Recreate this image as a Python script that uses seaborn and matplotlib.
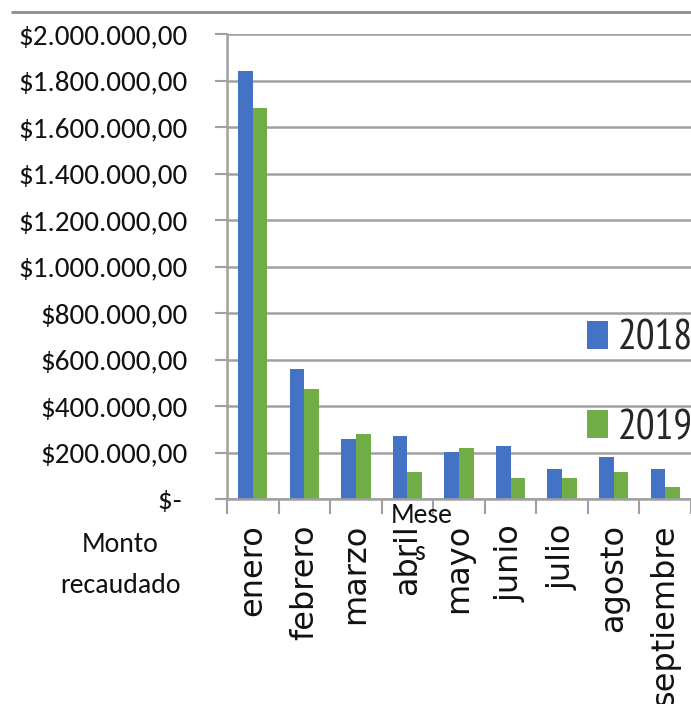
import matplotlib
matplotlib.use("Agg")
import matplotlib.pyplot as plt
from matplotlib import font_manager as fm
from matplotlib.lines import Line2D
from matplotlib.patches import Patch
from matplotlib.ticker import FuncFormatter, FixedLocator
import numpy as np
import pandas as pd
import seaborn as sns

# Monthly amounts collected, per year
meses = ["enero", "febrero", "marzo", "abril", "mayo", "junio", "julio", "agosto", "septiembre"]
anios = ["2018", "2019"]
monto_2018 = [1840000, 560000, 258000, 269000, 203000, 230000, 128000, 180000, 128000]
monto_2019 = [1680000, 475000, 281000, 115000, 219000, 89000, 89000, 117000, 50000]
y_ticks = list(range(0, 2000001, 200000))

AZUL = "#4472C4"
VERDE = "#70AD47"
GRIS = "#a0a0a0"
TEXTO = "#111111"

df = pd.DataFrame({
    "mes": meses * 2,
    "anio": [anios[0]] * len(meses) + [anios[1]] * len(meses),
    "monto": monto_2018 + monto_2019,
})

sns.set_theme(style="white")
names = {f.name for f in fm.fontManager.ttflist}
BASE = "Carlito" if "Carlito" in names else "Liberation Sans"
NARROW = "PT Sans Narrow" if "PT Sans Narrow" in names else BASE
plt.rcParams["font.family"] = [BASE, "DejaVu Sans"]

W, H = 691, 704
fig = plt.figure(figsize=(W / 100, H / 100), dpi=100)
ax = fig.add_axes([227 / W, 1 - 499 / H, (691 - 227) / W, (499 - 34) / H])

sns.barplot(data=df, x="mes", y="monto", hue="anio", order=meses, hue_order=anios,
            palette=[AZUL, VERDE], saturation=1, width=0.57, linewidth=0,
            errorbar=None, legend=False, ax=ax)

ax.set_xlim(-0.5, len(meses) - 0.5)
ax.set_ylim(0, 2000000)
ax.set_xlabel("")
ax.set_ylabel("")

# horizontal gridlines
ax.yaxis.set_major_locator(FixedLocator(y_ticks))
ax.grid(axis="y", color=GRIS, linewidth=1.8)
ax.set_axisbelow(True)


def fmt_monto(v, pos):
    if v == 0:
        return "$- "
    s = f"{v:,.2f}".replace(",", "X").replace(".", ",").replace("X", ".")
    return "$" + s


ax.yaxis.set_major_formatter(FuncFormatter(fmt_monto))
ax.tick_params(axis="y", which="major", length=9, width=1.5, color=GRIS,
               pad=19, labelsize=21, labelcolor=TEXTO, left=True)

# category labels at centres, tick marks at boundaries
ax.tick_params(axis="x", which="major", length=0, pad=18)
ax.set_xticks(np.arange(len(meses)), labels=meses)
for lbl in ax.get_xticklabels():
    lbl.set_fontfamily("DejaVu Sans")
    lbl.set_fontsize(23)
    lbl.set_color(TEXTO)
    lbl.set_rotation(90)
    lbl.set_va("top")
    lbl.set_ha("center")
ax.set_xticks(np.arange(len(meses) + 1) - 0.5, minor=True)
ax.tick_params(axis="x", which="minor", length=11, width=1.5, color=GRIS, bottom=True)

for side in ["top", "right"]:
    ax.spines[side].set_visible(False)
for side in ["left", "bottom"]:
    ax.spines[side].set_color(GRIS)
    ax.spines[side].set_linewidth(1.8)

# legend
handles = [Patch(facecolor=AZUL, edgecolor="none"), Patch(facecolor=VERDE, edgecolor="none")]
ax.legend(handles, anios, loc="center left",
          bbox_to_anchor=((587 - 227) / 464, (499 - 384) / 465),
          frameon=False, prop={"family": NARROW, "size": 30},
          handlelength=0.5, handleheight=0.65,
          handletextpad=0.25, labelspacing=1.2, borderpad=0, borderaxespad=0)

# axis titles
fig.text(120 / W, 1 - 552 / H, "Monto", ha="center", va="baseline", fontsize=20, color=TEXTO)
fig.text(120 / W, 1 - 593 / H, "recaudado", ha="center", va="baseline", fontsize=20, color=TEXTO)
fig.text(422 / W, 1 - 523 / H, "Mese", ha="center", va="baseline", fontsize=20, color=TEXTO)
fig.text(419 / W, 1 - 560 / H, "s", ha="center", va="baseline", fontsize=20, color=TEXTO)

# chart border line at the top
fig.add_artist(Line2D([12 / W, 1.0], [1 - 12 / H, 1 - 12 / H], transform=fig.transFigure,
                      color="#8c8c8c", linewidth=2))

fig.savefig("out.png", dpi=100)
